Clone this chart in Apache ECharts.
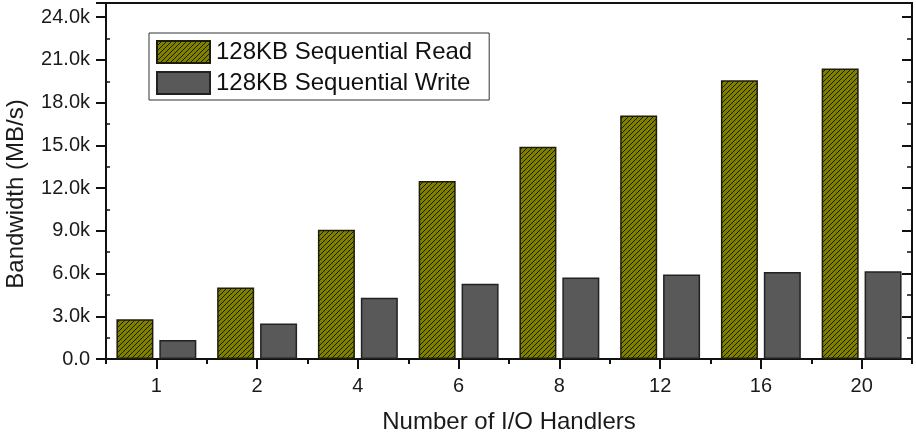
<!DOCTYPE html>
<html>
<head>
<meta charset="utf-8">
<script src="https://cdn.jsdelivr.net/npm/echarts@6/dist/echarts.min.js"></script>
<style>
html,body{margin:0;padding:0;background:#fff;}
#c{width:916px;height:437px;}
</style>
</head>
<body>
<div id="c"></div>
<script>
const categories = ['1', '2', '4', '6', '8', '12', '16', '20'];
const readValues = [2800, 5020, 9080, 12500, 14900, 17100, 19570, 20400];
const writeValues = [1330, 2500, 4300, 5280, 5720, 5930, 6110, 6170];
const seriesNames = ['128KB Sequential Read', '128KB Sequential Write'];
const xAxisTitle = 'Number of I/O Handlers';
const yAxisTitle = 'Bandwidth (MB/s)';

const FONT = '"Liberation Sans", Arial, Helvetica, sans-serif';

function hatch() {
  const s = 5;
  const cv = document.createElement('canvas');
  cv.width = s; cv.height = s;
  const g = cv.getContext('2d');
  g.fillStyle = '#808000';
  g.fillRect(0, 0, s, s);
  g.strokeStyle = '#1a1a00';
  g.lineWidth = 1;
  g.beginPath();
  g.moveTo(-1, s + 1); g.lineTo(s + 1, -1);
  g.moveTo(-1, 1); g.lineTo(1, -1);
  g.moveTo(s - 1, s + 1); g.lineTo(s + 1, s - 1);
  g.stroke();
  return cv;
}

const chart = echarts.init(document.getElementById('c'), null, {renderer: 'canvas'});
const yCommon = {
  type: 'value', min: 0, max: 25000, interval: 3000,
  splitLine: {show: false},
  axisLine: {show: true, lineStyle: {color: '#111', width: 2}}
};
chart.setOption({
  animation: false,
  backgroundColor: '#fff',
  textStyle: {fontFamily: FONT},
  grid: {left: 106, right: 4, top: 3, bottom: 78, show: true, borderColor: '#111', borderWidth: 2,
         containLabel: false, outerBoundsMode: 'none'},
  legend: {
    orient: 'vertical', left: 149, top: 33,
    padding: [7, 17, 5, 7],
    itemWidth: 53, itemHeight: 22, itemGap: 7,
    borderColor: '#333', borderWidth: 1, backgroundColor: '#fff',
    icon: 'rect',
    textStyle: {fontFamily: FONT, fontSize: 24, color: '#111', padding: [0, 0, 0, 1]},
    data: seriesNames
  },
  xAxis: [{
    type: 'category', data: categories, position: 'bottom',
    axisLine: {show: true, lineStyle: {color: '#111', width: 2}},
    axisTick: {show: true, alignWithLabel: true, length: 10, lineStyle: {color: '#111', width: 2}},
    axisLabel: {fontFamily: FONT, fontSize: 20, color: '#1a1a1a', margin: 17},
    name: xAxisTitle, nameLocation: 'middle', nameGap: 51,
    nameTextStyle: {fontFamily: FONT, fontSize: 24, color: '#1a1a1a'}
  }, {
    type: 'category', data: categories, position: 'bottom',
    axisLine: {show: false},
    axisTick: {show: true, alignWithLabel: false, length: 5, lineStyle: {color: '#111', width: 2}},
    axisLabel: {show: false}
  }],
  yAxis: [Object.assign({}, yCommon, {
    position: 'left',
    axisTick: {show: true, length: 10, lineStyle: {color: '#111', width: 2}},
    minorTick: {show: true, splitNumber: 2, length: -4, lineStyle: {color: '#111', width: 1.5}},
    axisLabel: {
      fontFamily: FONT, fontSize: 20, color: '#1a1a1a', margin: 16, showMaxLabel: false,
      formatter: v => (v > 24000 ? '' : (v === 0 ? '0.0' : (v / 1000).toFixed(1) + 'k'))
    },
    name: yAxisTitle, nameLocation: 'middle', nameGap: 78, nameRotate: 90,
    nameTextStyle: {fontFamily: FONT, fontSize: 24, color: '#1a1a1a', padding: [0, 26, 0, 0]}
  }), Object.assign({}, yCommon, {
    position: 'right',
    axisTick: {show: true, inside: true, length: 10, lineStyle: {color: '#111', width: 2}},
    minorTick: {show: true, splitNumber: 2, length: 5, lineStyle: {color: '#111', width: 1.5}},
    axisLabel: {show: false}
  })],
  series: [{
    name: seriesNames[0], type: 'bar', xAxisIndex: 0, yAxisIndex: 0,
    data: readValues, barWidth: 37, barGap: '16%',
    itemStyle: {color: {image: hatch(), repeat: 'repeat'}, borderColor: '#1c1c0c', borderWidth: 1.5}
  }, {
    name: seriesNames[1], type: 'bar', xAxisIndex: 0, yAxisIndex: 0,
    data: writeValues, barWidth: 37, barGap: '16%',
    itemStyle: {color: '#595959', borderColor: '#222', borderWidth: 1.5}
  }]
});
</script>
</body>
</html>
